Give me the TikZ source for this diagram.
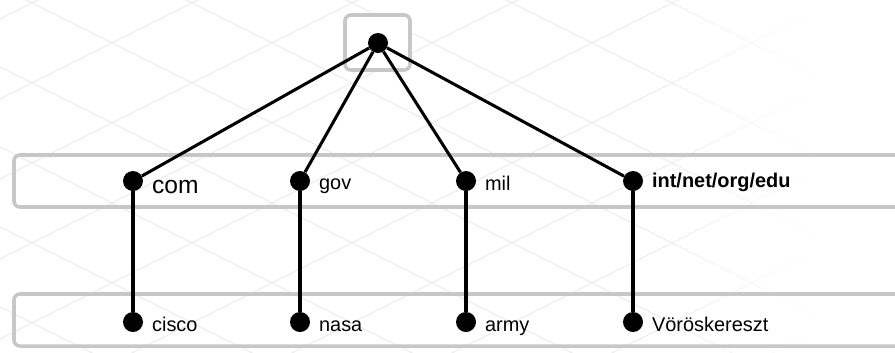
\documentclass[tikz,border=0pt]{standalone}
\usepackage{fontspec}
\setmainfont{Liberation Sans}
\usetikzlibrary{positioning, fadings}

\begin{document}
\begin{tikzpicture}[x=0.3mm, y=-0.3mm,
  dot/.style={circle, fill=black, inner sep=0pt, minimum size=6mm},
  lbl/.style={anchor=base west, inner sep=0pt, xshift=2.6mm, yshift=-2.7mm,
    font=\fontsize{17}{20}\selectfont},
  band/.style={draw=black!22, line width=3pt, rounded corners=5pt},
  grid/.style={draw=black!9, line width=0.7pt},
  link/.style={line width=2.6pt}]
  \useasboundingbox (0,0) rectangle (895,352);
  \clip (0,0) rectangle (895,352);

  % faint lattice in the background, fading out to the right
  \begin{scope}
    \clip (0,0) rectangle (820,352);
    \foreach \n in {-8,...,1}
      \draw[grid] (0,227+80*\n) -- (900,677+80*\n);
    \foreach \n in {-3,...,6}
      \draw[grid] (0,259+80*\n) -- (900,-191+80*\n);
    \fill[white, path fading=west] (640,-5) rectangle (821,360);
  \end{scope}

  % levels
  \draw[band, fill=white] (345,15) rectangle (410,70);
  \draw[band] (14,155) rectangle (920,207);
  \draw[band] (14,294) rectangle (920,346);

  % root and top-level domains
  \node[dot] (root) at (378,43) {};
  \node[dot] (com)  at (133,181) {};
  \node[dot] (gov)  at (300,181) {};
  \node[dot] (mil)  at (466,181) {};
  \node[dot] (int)  at (633,181) {};

  % second level
  \node[dot] (cisco) at (133,322) {};
  \node[dot] (nasa)  at (300,322) {};
  \node[dot] (army)  at (466,322) {};
  \node[dot] (voros) at (633,322) {};

  \node[lbl, yshift=-0.9mm, font=\fontsize{21}{24}\selectfont] (comtxt) at (com.east) {com};
  \node[lbl, yshift=0.3mm] (govtxt) at (gov.east) {gov};
  \node[lbl] (miltxt) at (mil.east) {mil};
  \node[lbl, yshift=0.9mm, font=\fontsize{17}{20}\selectfont\bfseries] (inttxt) at (int.east) {int/net/org/edu};
  \node[lbl] (ciscotxt) at (cisco.east) {cisco};
  \node[lbl] (nasatxt)  at (nasa.east)  {nasa};
  \node[lbl] (armytxt)  at (army.east)  {army};
  \node[lbl] (vorostxt) at (voros.east) {Vöröskereszt};

  \draw[link] (root) -- (com);
  \draw[link] (root) -- (gov);
  \draw[link] (root) -- (mil);
  \draw[link] (root) -- (int);
  \draw[link] (com) -- (cisco);
  \draw[link] (gov) -- (nasa);
  \draw[link] (mil) -- (army);
  \draw[link] (int) -- (voros);
\end{tikzpicture}
\end{document}
